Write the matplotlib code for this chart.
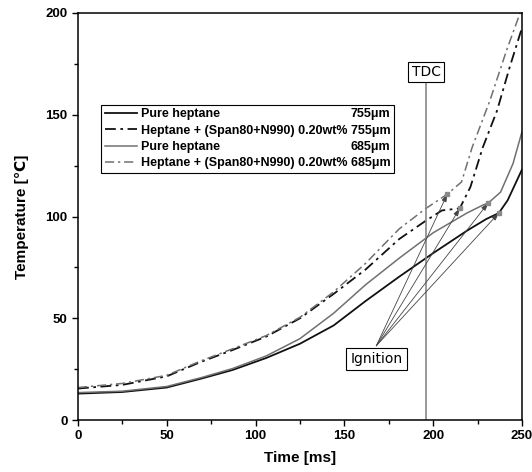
import matplotlib
matplotlib.use("Agg")
import matplotlib.pyplot as plt
from matplotlib.ticker import MultipleLocator

plt.rcParams["font.family"] = ["Liberation Sans", "DejaVu Sans"]

# 755um, pure heptane (black solid)
t_pure_755 = [0, 25, 50, 70, 87, 106, 125, 144, 162, 181, 200, 219, 230, 237, 242, 250]
T_pure_755 = [13.0, 13.8, 16.0, 20.5, 24.6, 30.5, 37.5, 46.5, 58.5, 70.5, 82, 93, 98.8, 101.7, 108, 123]

# 755um, heptane + additive (black dash-dot)
t_add_755 = [0, 25, 50, 69, 87, 106, 125, 144, 162, 181, 196, 205, 210, 215, 221, 228, 236, 243, 250]
T_add_755 = [15.5, 17.3, 21.5, 28.5, 34.4, 41, 50, 62, 74, 89, 98, 103, 103.5, 104, 114.5, 134, 152, 173, 192.6]

# 685um, pure heptane (gray solid)
t_pure_685 = [0, 25, 50, 70, 87, 106, 125, 144, 162, 181, 200, 219, 228, 231, 238, 245, 250]
T_pure_685 = [13.5, 14.2, 16.5, 21, 25.3, 31.5, 40, 52.5, 66.5, 79.6, 92, 101.7, 105.6, 106.6, 112, 126, 141.5]

# 685um, heptane + additive (gray dash-dot)
t_add_685 = [0, 25, 50, 69, 87, 106, 125, 144, 162, 172, 181, 196, 208, 216, 222, 232, 241.5, 249]
T_add_685 = [16, 18, 22, 29, 35, 41.5, 50.5, 63, 77, 86, 94, 104, 111, 117, 134, 157, 182, 200]

# ignition points, in series order
ign_t = [237, 215, 231, 208]
ign_T = [101.7, 104, 106.6, 111]

labels = ["Pure heptane", "Heptane + (Span80+N990) 0.20wt%",
          "Pure heptane", "Heptane + (Span80+N990) 0.20wt%"]
sizes = ["755\u03bcm", "755\u03bcm", "685\u03bcm", "685\u03bcm"]

tdc_time = 196

black = "#111111"
gray = "#707070"
dashdot = (0, (6, 2.5, 1.5, 2.5))

fig = plt.figure(figsize=(5.32, 4.72), dpi=100)
ax = fig.add_axes([0.1466, 0.110, 0.8344, 0.8625])

h1, = ax.plot(t_pure_755, T_pure_755, color=black, lw=1.3)
h2, = ax.plot(t_add_755, T_add_755, color=black, lw=1.3, linestyle=dashdot)
h3, = ax.plot(t_pure_685, T_pure_685, color=gray, lw=1.1)
h4, = ax.plot(t_add_685, T_add_685, color=gray, lw=1.1, linestyle=dashdot)

# TDC line and label
ax.plot([tdc_time, tdc_time], [0, 166], color="#888888", lw=1.2)
ax.text(tdc_time, 171, "TDC", family="DejaVu Sans", fontsize=10, ha="center", va="center",
        bbox=dict(boxstyle="square,pad=0.25", fc="white", ec="black", lw=0.8))

# ignition arrows
for xt, yt in zip(ign_t, ign_T):
    ax.annotate("", xy=(xt, yt), xytext=(168, 36.5),
                arrowprops=dict(arrowstyle="-|>,head_length=0.45,head_width=0.15",
                                color="#444444", lw=0.6, shrinkA=0, shrinkB=0))
ax.plot(ign_t, ign_T, "s", color="#8a8a8a", markersize=3.5, zorder=5)
ax.text(168, 30, "Ignition", family="DejaVu Sans", fontsize=10, ha="center", va="center",
        bbox=dict(boxstyle="square,pad=0.3", fc="white", ec="black", lw=0.8))

ax.set_xlim(0, 250)
ax.set_ylim(0, 200)
ax.xaxis.set_major_locator(MultipleLocator(50))
ax.xaxis.set_minor_locator(MultipleLocator(25))
ax.yaxis.set_major_locator(MultipleLocator(50))
ax.yaxis.set_minor_locator(MultipleLocator(25))
ax.tick_params(which="both", direction="out", top=False, right=False, width=1.0)
ax.tick_params(which="major", length=4, labelsize=9.5)
ax.tick_params(which="minor", length=3)
for lab in ax.get_xticklabels() + ax.get_yticklabels():
    lab.set_fontweight("bold")
for sp in ax.spines.values():
    sp.set_linewidth(1.1)

ax.set_xlabel("Time [ms]", fontsize=11, fontweight="bold", labelpad=6)
ax.set_ylabel("Temperature [\u2103]", fontsize=11, fontweight="bold", labelpad=12)

leg = ax.legend([h1, h2, h3, h4], [labels[0], labels[1] + " " + sizes[1],
                                   labels[2], labels[3] + " " + sizes[3]],
                loc="upper left", bbox_to_anchor=(0.052, 0.774), borderaxespad=0,
                fancybox=False, edgecolor="black", framealpha=1,
                handlelength=2.6, handletextpad=0.3, labelspacing=0.34, borderpad=0.28,
                prop=dict(weight="bold", size=9.0))
leg.get_frame().set_linewidth(0.8)

# right-aligned particle sizes for the short rows
fig.canvas.draw()
r = fig.canvas.get_renderer()
texts = leg.get_texts()
right_px = texts[1].get_window_extent(r).x1
inv = fig.transFigure.inverted()
for i in (0, 2):
    bb = texts[i].get_window_extent(r)
    x_fig, y_fig = inv.transform((right_px, (bb.y0 + bb.y1) / 2))
    fig.text(x_fig, y_fig, sizes[i], ha="right", va="center", fontsize=9.0,
             fontweight="bold", zorder=10)

fig.savefig("out.png", dpi=100)
